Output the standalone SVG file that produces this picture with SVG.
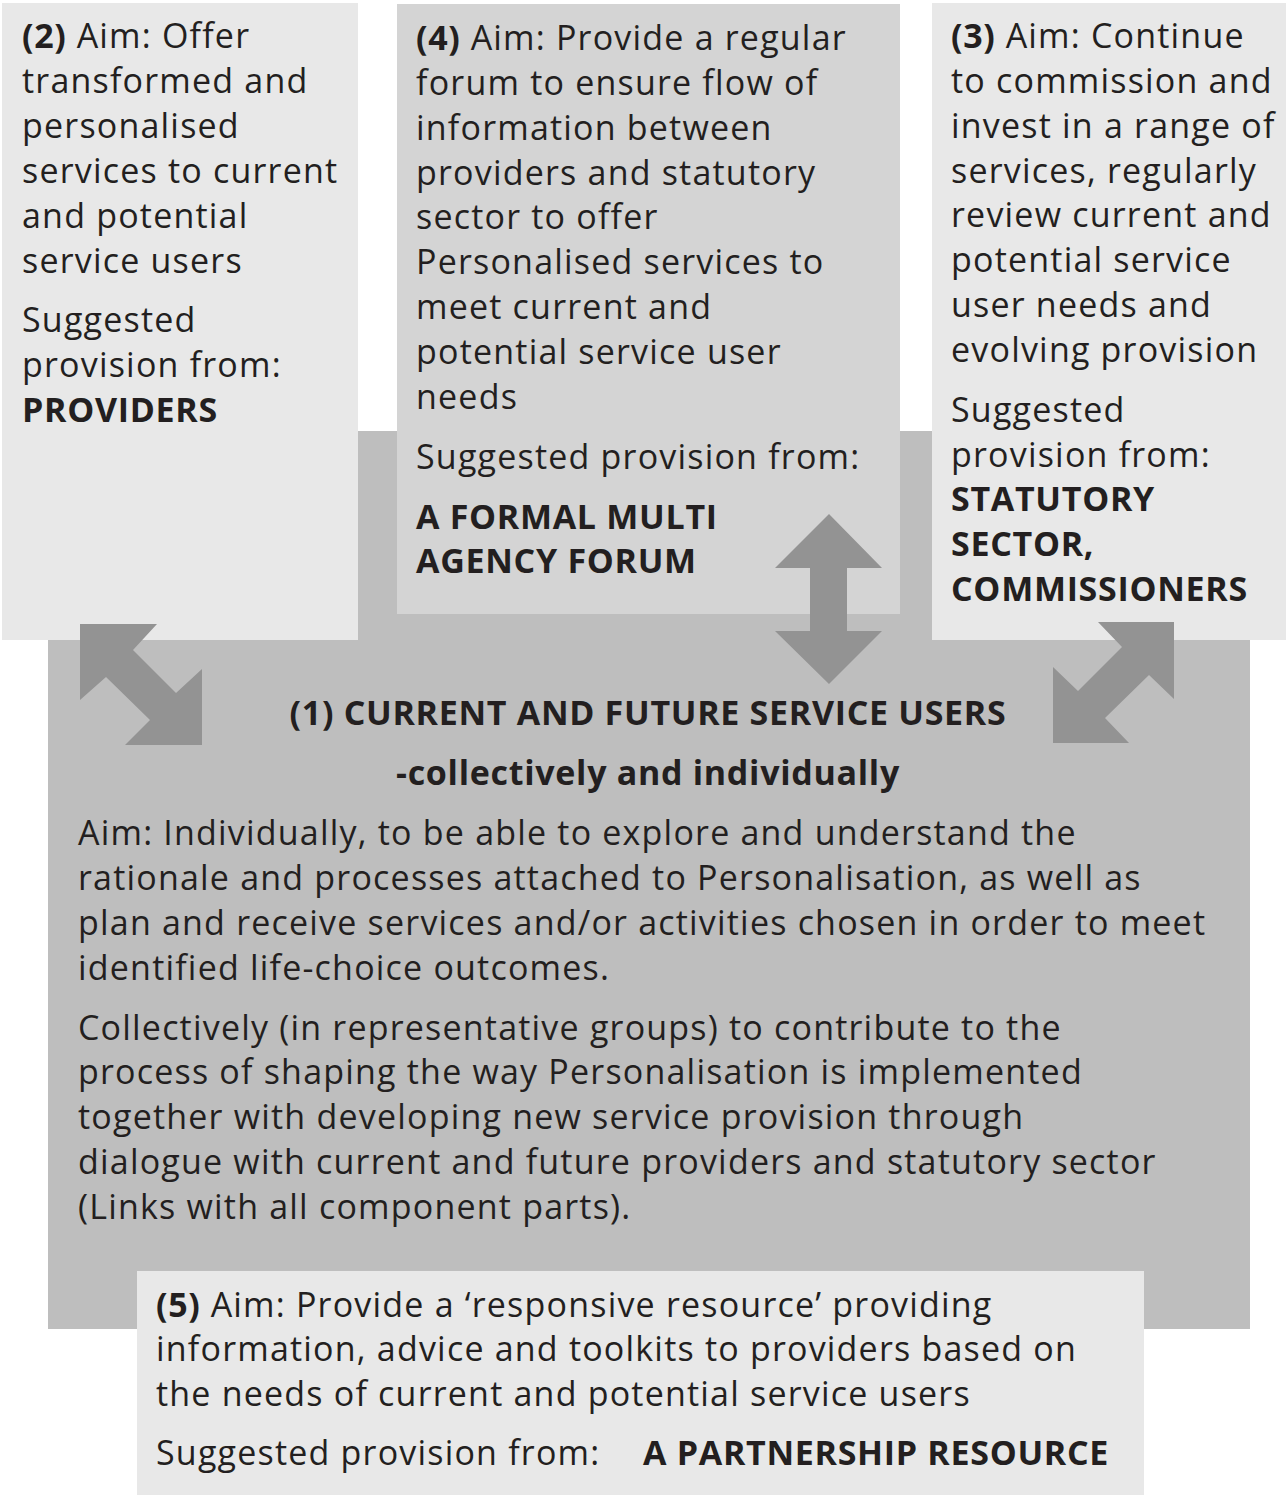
<svg xmlns="http://www.w3.org/2000/svg" width="1287" height="1495" viewBox="0 0 1287 1495">
  <style>
    text { font-family: "Open Sans", "Noto Sans", "DejaVu Sans", sans-serif; font-size: 34px; letter-spacing: 1.2px; fill: #231f20; }
    .b { font-weight: bold; letter-spacing: 0.7px; }
    .mid { text-anchor: middle; }
    .arrow { fill: #939393; }
  </style>
  <rect width="1287" height="1495" fill="#ffffff"/>

  <!-- (1) central block: service users -->
  <g id="node-users">
    <rect x="48" y="431" width="1202" height="898" fill="#bebebe"/>
    <text class="b mid" x="648" y="725">(1) CURRENT AND FUTURE SERVICE USERS</text>
    <text class="b mid" x="648" y="785">-collectively and individually</text>
    <text x="78" y="845">Aim: Individually, to be able to explore and understand the</text>
    <text x="78" y="890">rationale and processes attached to Personalisation, as well as</text>
    <text x="78" y="935">plan and receive services and/or activities chosen in order to meet</text>
    <text x="78" y="980">identified life-choice outcomes.</text>
    <text x="78" y="1040">Collectively (in representative groups) to contribute to the</text>
    <text x="78" y="1084">process of shaping the way Personalisation is implemented</text>
    <text x="78" y="1129">together with developing new service provision through</text>
    <text x="78" y="1174">dialogue with current and future providers and statutory sector</text>
    <text x="78" y="1219">(Links with all component parts).</text>
  </g>

  <!-- (2) providers -->
  <g id="node-providers">
    <rect x="2" y="3" width="356" height="637" fill="#e8e8e8"/>
    <text x="22" y="48"><tspan class="b">(2)</tspan> Aim: Offer</text>
    <text x="22" y="93">transformed and</text>
    <text x="22" y="138">personalised</text>
    <text x="22" y="183">services to current</text>
    <text x="22" y="228">and potential</text>
    <text x="22" y="273">service users</text>
    <text x="22" y="332">Suggested</text>
    <text x="22" y="377">provision from:</text>
    <text class="b" x="22" y="422">PROVIDERS</text>
  </g>

  <!-- (4) multi agency forum -->
  <g id="node-forum">
    <rect x="397" y="4" width="503" height="610" fill="#d4d4d4"/>
    <text x="416" y="50"><tspan class="b">(4)</tspan> Aim: Provide a regular</text>
    <text x="416" y="95">forum to ensure flow of</text>
    <text x="416" y="140">information between</text>
    <text x="416" y="185">providers and statutory</text>
    <text x="416" y="229">sector to offer</text>
    <text x="416" y="274">Personalised services to</text>
    <text x="416" y="319">meet current and</text>
    <text x="416" y="364">potential service user</text>
    <text x="416" y="409">needs</text>
    <text x="416" y="469">Suggested provision from:</text>
    <text class="b" x="416" y="529">A FORMAL MULTI</text>
    <text class="b" x="416" y="573">AGENCY FORUM</text>
  </g>

  <!-- (3) statutory sector -->
  <g id="node-statutory">
    <rect x="932" y="3" width="354" height="637" fill="#e8e8e8"/>
    <text x="951" y="48"><tspan class="b">(3)</tspan> Aim: Continue</text>
    <text x="951" y="93">to commission and</text>
    <text x="951" y="138">invest in a range of</text>
    <text x="951" y="183">services, regularly</text>
    <text x="951" y="227">review current and</text>
    <text x="951" y="272">potential service</text>
    <text x="951" y="317">user needs and</text>
    <text x="951" y="362">evolving provision</text>
    <text x="951" y="422">Suggested</text>
    <text x="951" y="467">provision from:</text>
    <text class="b" x="951" y="511">STATUTORY</text>
    <text class="b" x="951" y="556">SECTOR,</text>
    <text class="b" x="951" y="601">COMMISSIONERS</text>
  </g>

  <!-- (5) partnership resource -->
  <g id="node-resource">
    <rect x="137" y="1271" width="1007" height="224" fill="#e8e8e8"/>
    <text x="156" y="1317"><tspan class="b">(5)</tspan> Aim: Provide a ‘responsive resource’ providing</text>
    <text x="156" y="1361">information, advice and toolkits to providers based on</text>
    <text x="156" y="1406">the needs of current and potential service users</text>
    <text x="156" y="1465">Suggested provision from:</text>
    <text class="b" x="643" y="1465">A PARTNERSHIP RESOURCE</text>
  </g>

  <!-- two-headed block arrows linking the outer parts to the service users -->
  <g id="connectors">
    <polygon class="arrow" points="80,624 157,624 133,650 176,693 202,669 202,745 125,745 150,720 106,677 80,700"/>
    <polygon class="arrow" points="829,514 882,568 847,568 847,631 882,631 829,684 775,631 810,631 810,568 775,568"/>
    <polygon class="arrow" points="1174,622 1174,699 1149,675 1105,718 1129,743 1053,743 1053,667 1078,691 1122,647 1098,622"/>
  </g>
</svg>
